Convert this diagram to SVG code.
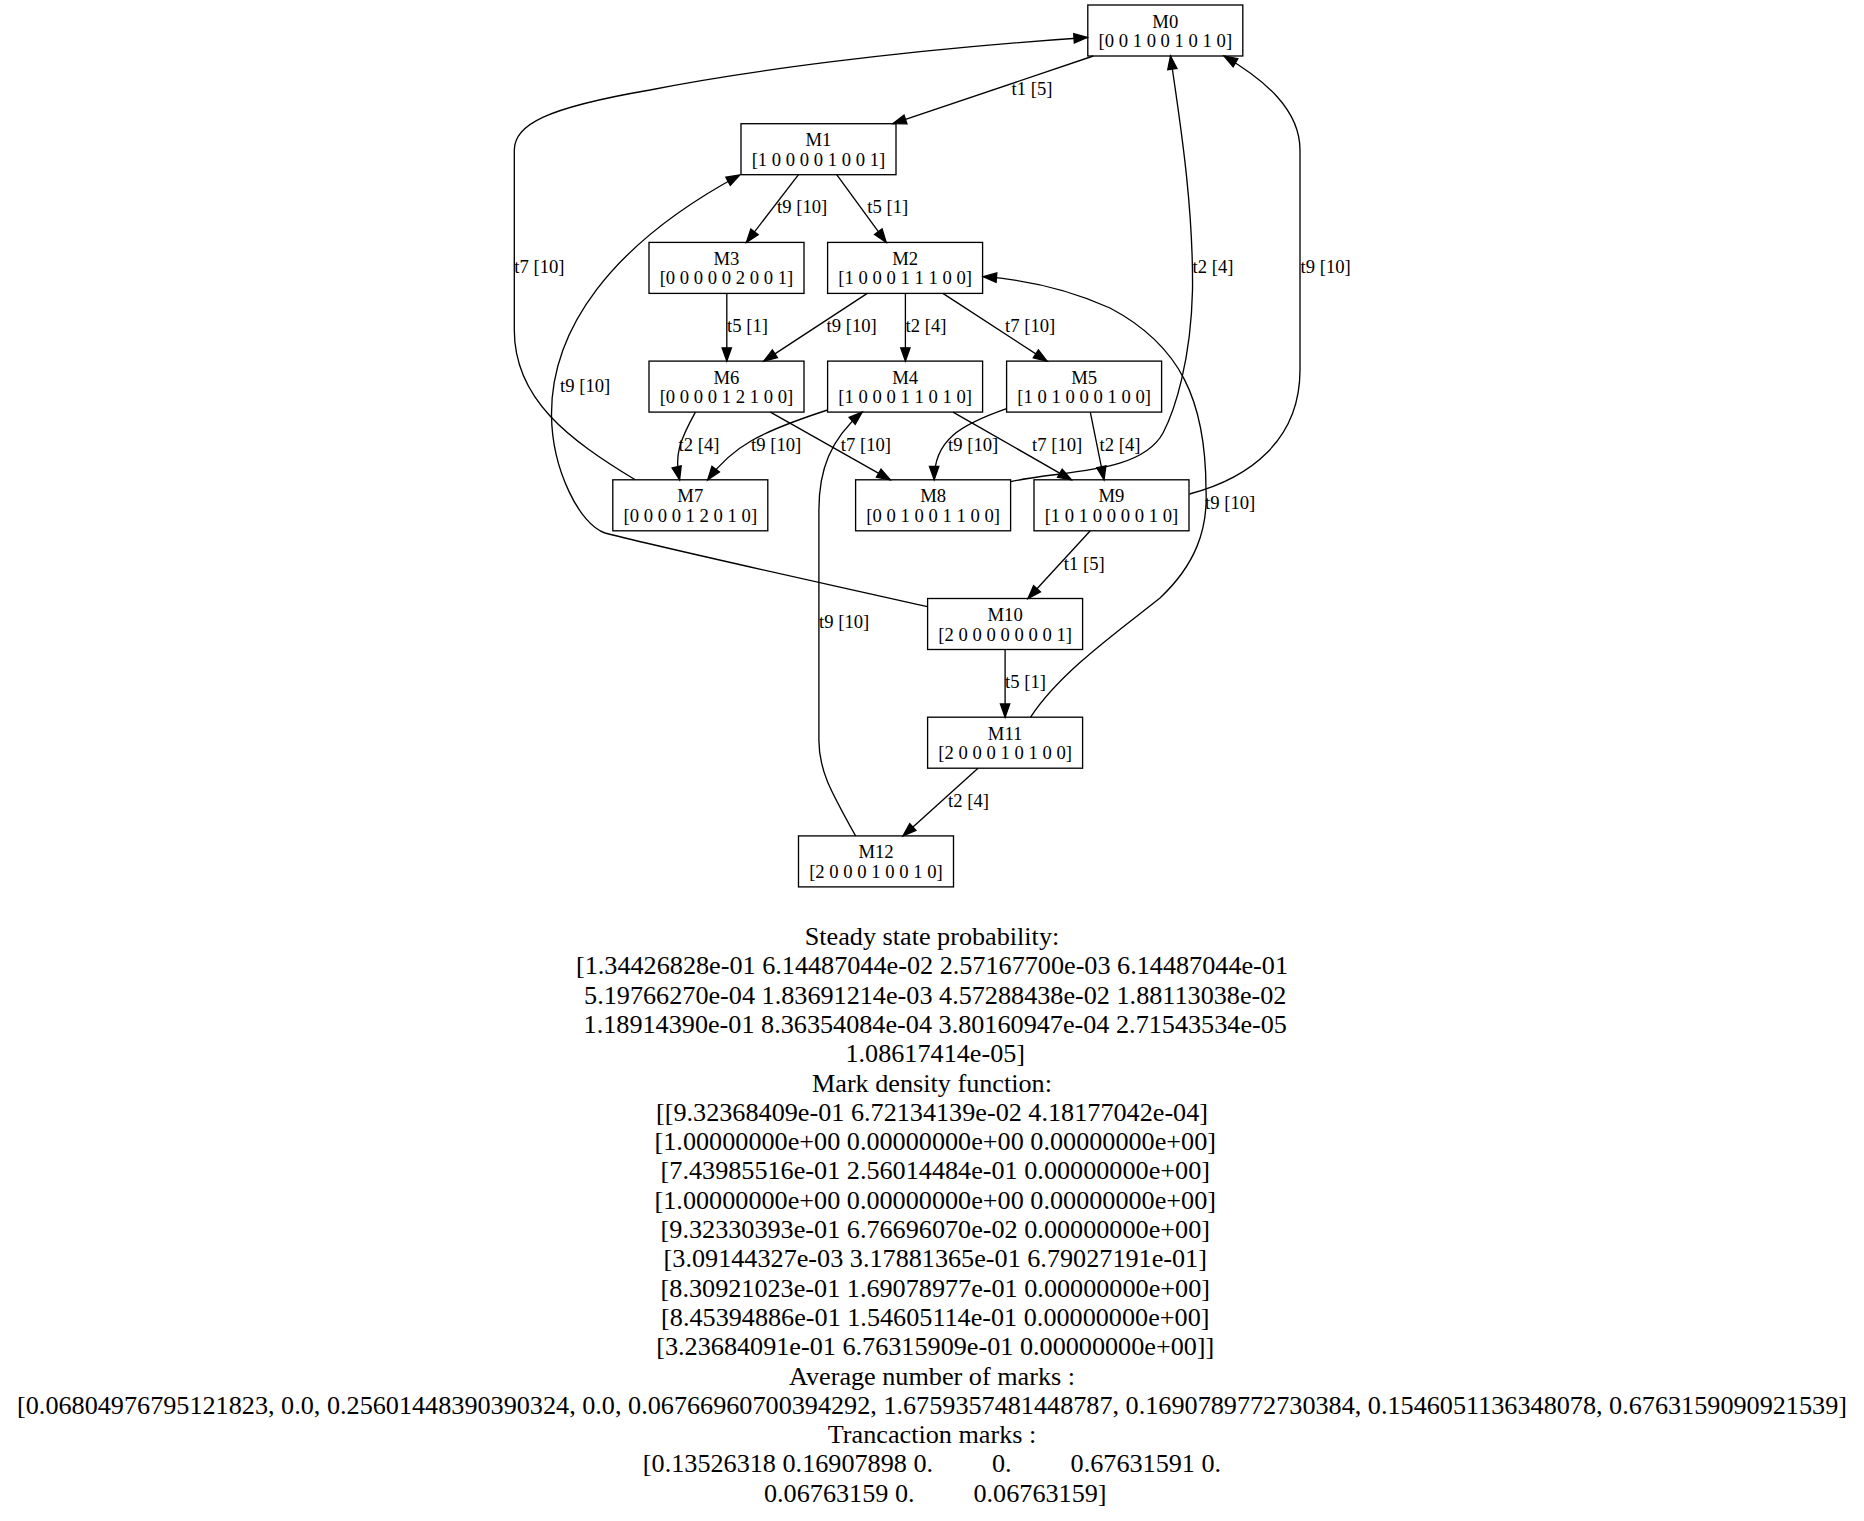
<svg xmlns="http://www.w3.org/2000/svg" width="1864" height="1521" viewBox="0 0 1864 1521">
  <style>
    .node rect { fill: none; stroke: #000; stroke-width: 1.33; }
    .node text { font-family: "Liberation Serif", "Times New Roman", serif; font-size: 18.67px; text-anchor: middle; fill: #000; }
    .edge path { fill: none; stroke: #000; stroke-width: 1.33; marker-end: url(#arrow); }
    .edge text { font-family: "Liberation Serif", "Times New Roman", serif; font-size: 18.67px; fill: #000; }
    .summary text { font-family: "Liberation Serif", "Times New Roman", serif; font-size: 26.2px; text-anchor: middle; fill: #000; white-space: pre; }
  </style>
  <defs>
    <marker id="arrow" markerUnits="userSpaceOnUse" viewBox="-1 -6 16 12" markerWidth="16" markerHeight="12" refX="13.3" refY="0" orient="auto" overflow="visible">
      <path d="M0,-4.67 L13.3,0 L0,4.67 Z" fill="#000" stroke="#000" stroke-width="1.33"/>
    </marker>
  </defs>
  <rect x="0" y="0" width="1864" height="1521" fill="#fff"/>

  <!-- connectors -->
  <g id="edges">
    <g class="edge" id="e_M0_M1">
      <path d="M1093.3,56 L892.9,123.7"/>
      <text x="1011.5" y="94.7">t1 [5]</text>
    </g>
    <g class="edge" id="e_M1_M3">
      <path d="M798.5,174.7 L746.4,242.4"/>
      <text x="777" y="213.4">t9 [10]</text>
    </g>
    <g class="edge" id="e_M1_M2">
      <path d="M836.7,174.7 L886.2,242.4"/>
      <text x="867.3" y="213.4">t5 [1]</text>
    </g>
    <g class="edge" id="e_M3_M6">
      <path d="M726.8,293.4 L726.8,361.1"/>
      <text x="727" y="332.1">t5 [1]</text>
    </g>
    <g class="edge" id="e_M2_M6">
      <path d="M867.3,293.4 L763.8,361.1"/>
      <text x="826.5" y="332.1">t9 [10]</text>
    </g>
    <g class="edge" id="e_M2_M4">
      <path d="M905.4,293.4 L905.4,361.1"/>
      <text x="905.6" y="332.1">t2 [4]</text>
    </g>
    <g class="edge" id="e_M2_M5">
      <path d="M942.9,293.4 L1047,361.1"/>
      <text x="1005" y="332.1">t7 [10]</text>
    </g>
    <g class="edge" id="e_M6_M7">
      <path d="M695.4,412.1 C680,440 674,455 679.6,479.8"/>
      <text x="678.6" y="450.8">t2 [4]</text>
    </g>
    <g class="edge" id="e_M6_M8">
      <path d="M770.4,412.1 L890.3,479.8"/>
      <text x="840.8" y="450.8">t7 [10]</text>
    </g>
    <g class="edge" id="e_M4_M7">
      <path d="M827.6,410 C760,432 733,446 707.7,479.8"/>
      <text x="751" y="450.8">t9 [10]</text>
    </g>
    <g class="edge" id="e_M4_M9">
      <path d="M953,412.1 L1071.4,479.8"/>
      <text x="1032" y="450.8">t7 [10]</text>
    </g>
    <g class="edge" id="e_M5_M8">
      <path d="M1006.6,408.7 C960,425 934,440 934.2,479.8"/>
      <text x="948" y="450.8">t9 [10]</text>
    </g>
    <g class="edge" id="e_M5_M9">
      <path d="M1090.3,412.1 L1104,479.8"/>
      <text x="1099.5" y="450.8">t2 [4]</text>
    </g>
    <g class="edge" id="e_M7_M0">
      <path d="M635.2,479.8 C570,440 514.3,400 514.3,330 L514.3,150 C514.3,125 545,108 650,90 C740,72 900,50 1087.3,37.5"/>
      <text x="514.3" y="273.2">t7 [10]</text>
    </g>
    <g class="edge" id="e_M8_M0">
      <path d="M1010.7,481.7 C1060,470 1140,475 1163,433 C1175,410 1191,360 1192.5,290 C1193.5,200 1178,110 1170.5,56"/>
      <text x="1192.5" y="273.2">t2 [4]</text>
    </g>
    <g class="edge" id="e_M9_M0">
      <path d="M1189.5,494 C1250,478 1300,440 1300,370 L1300,150 C1300,110 1265,80 1224,56"/>
      <text x="1300.5" y="273.2">t9 [10]</text>
    </g>
    <g class="edge" id="e_M9_M10">
      <path d="M1090.3,530.8 L1028,598.5"/>
      <text x="1063.8" y="569.5">t1 [5]</text>
    </g>
    <g class="edge" id="e_M10_M1">
      <path d="M927.6,606.7 C800,578 680,552 605,533 C580,525 552,470 551.5,415 C551,330 610,245 739.8,175"/>
      <text x="560" y="392">t9 [10]</text>
    </g>
    <g class="edge" id="e_M10_M11">
      <path d="M1005.1,649.5 L1005.1,717.2"/>
      <text x="1005" y="688.2">t5 [1]</text>
    </g>
    <g class="edge" id="e_M11_M2">
      <path d="M1030.6,717.2 C1060,672 1120,630 1160,598 C1195,565 1208,530 1206,490 C1206,400 1180,345 1110,308 C1070,290 1030,280 983.2,276.7"/>
      <text x="1205" y="509.2">t9 [10]</text>
    </g>
    <g class="edge" id="e_M11_M12">
      <path d="M978,768.2 L903,835.9"/>
      <text x="948" y="806.9">t2 [4]</text>
    </g>
    <g class="edge" id="e_M12_M4">
      <path d="M855.6,835.9 C830,790 818.9,770 818.9,740 L818.9,510 C818.9,470 830,440 862.2,412.1"/>
      <text x="819" y="628">t9 [10]</text>
    </g>
  </g>

  <!-- markings -->
  <g class="node" id="M0">
    <rect x="1087.8" y="5" width="155" height="51"/>
    <text x="1165.3" y="27.5">M0</text>
    <text x="1165.3" y="47">[0 0 1 0 0 1 0 1 0]</text>
  </g>
  <g class="node" id="M1">
    <rect x="741" y="123.7" width="155" height="51"/>
    <text x="818.5" y="146.2">M1</text>
    <text x="818.5" y="165.7">[1 0 0 0 0 1 0 0 1]</text>
  </g>
  <g class="node" id="M3">
    <rect x="649" y="242.4" width="155" height="51"/>
    <text x="726.5" y="264.9">M3</text>
    <text x="726.5" y="284.4">[0 0 0 0 0 2 0 0 1]</text>
  </g>
  <g class="node" id="M2">
    <rect x="827.6" y="242.4" width="155" height="51"/>
    <text x="905.1" y="264.9">M2</text>
    <text x="905.1" y="284.4">[1 0 0 0 1 1 1 0 0]</text>
  </g>
  <g class="node" id="M6">
    <rect x="649" y="361.1" width="155" height="51"/>
    <text x="726.5" y="383.6">M6</text>
    <text x="726.5" y="403.1">[0 0 0 0 1 2 1 0 0]</text>
  </g>
  <g class="node" id="M4">
    <rect x="827.6" y="361.1" width="155" height="51"/>
    <text x="905.1" y="383.6">M4</text>
    <text x="905.1" y="403.1">[1 0 0 0 1 1 0 1 0]</text>
  </g>
  <g class="node" id="M5">
    <rect x="1006.6" y="361.1" width="155" height="51"/>
    <text x="1084.1" y="383.6">M5</text>
    <text x="1084.1" y="403.1">[1 0 1 0 0 0 1 0 0]</text>
  </g>
  <g class="node" id="M7">
    <rect x="612.8" y="479.8" width="155" height="51"/>
    <text x="690.3" y="502.3">M7</text>
    <text x="690.3" y="521.8">[0 0 0 0 1 2 0 1 0]</text>
  </g>
  <g class="node" id="M8">
    <rect x="855.6" y="479.8" width="155" height="51"/>
    <text x="933.1" y="502.3">M8</text>
    <text x="933.1" y="521.8">[0 0 1 0 0 1 1 0 0]</text>
  </g>
  <g class="node" id="M9">
    <rect x="1034" y="479.8" width="155" height="51"/>
    <text x="1111.5" y="502.3">M9</text>
    <text x="1111.5" y="521.8">[1 0 1 0 0 0 0 1 0]</text>
  </g>
  <g class="node" id="M10">
    <rect x="927.6" y="598.5" width="155" height="51"/>
    <text x="1005.1" y="621">M10</text>
    <text x="1005.1" y="640.5">[2 0 0 0 0 0 0 0 1]</text>
  </g>
  <g class="node" id="M11">
    <rect x="927.6" y="717.2" width="155" height="51"/>
    <text x="1005.1" y="739.7">M11</text>
    <text x="1005.1" y="759.2">[2 0 0 0 1 0 1 0 0]</text>
  </g>
  <g class="node" id="M12">
    <rect x="798.5" y="835.9" width="155" height="51"/>
    <text x="876" y="858.4">M12</text>
    <text x="876" y="877.9">[2 0 0 0 1 0 0 1 0]</text>
  </g>

  <!-- analysis results printed under the graph -->
  <g class="summary" id="summary">
    <text x="932" y="945">Steady state probability:</text>
    <text x="932" y="974.3">[1.34426828e-01 6.14487044e-02 2.57167700e-03 6.14487044e-01</text>
    <text x="932" y="1003.6"> 5.19766270e-04 1.83691214e-03 4.57288438e-02 1.88113038e-02</text>
    <text x="932" y="1032.9"> 1.18914390e-01 8.36354084e-04 3.80160947e-04 2.71543534e-05</text>
    <text x="932" y="1062.2"> 1.08617414e-05]</text>
    <text x="932" y="1091.5">Mark density function:</text>
    <text x="932" y="1120.8">[[9.32368409e-01 6.72134139e-02 4.18177042e-04]</text>
    <text x="932" y="1150.1"> [1.00000000e+00 0.00000000e+00 0.00000000e+00]</text>
    <text x="932" y="1179.4"> [7.43985516e-01 2.56014484e-01 0.00000000e+00]</text>
    <text x="932" y="1208.7"> [1.00000000e+00 0.00000000e+00 0.00000000e+00]</text>
    <text x="932" y="1238"> [9.32330393e-01 6.76696070e-02 0.00000000e+00]</text>
    <text x="932" y="1267.3"> [3.09144327e-03 3.17881365e-01 6.79027191e-01]</text>
    <text x="932" y="1296.6"> [8.30921023e-01 1.69078977e-01 0.00000000e+00]</text>
    <text x="932" y="1325.9"> [8.45394886e-01 1.54605114e-01 0.00000000e+00]</text>
    <text x="932" y="1355.2"> [3.23684091e-01 6.76315909e-01 0.00000000e+00]]</text>
    <text x="932" y="1384.5">Average number of marks :</text>
    <text x="932" y="1413.8">[0.06804976795121823, 0.0, 0.25601448390390324, 0.0, 0.06766960700394292, 1.6759357481448787, 0.1690789772730384, 0.1546051136348078, 0.6763159090921539]</text>
    <text x="932" y="1443.1">Trancaction marks :</text>
    <text x="932" y="1472.4">[0.13526318 0.16907898 0.         0.         0.67631591 0.</text>
    <text x="932" y="1501.7"> 0.06763159 0.         0.06763159]</text>
  </g>
</svg>
